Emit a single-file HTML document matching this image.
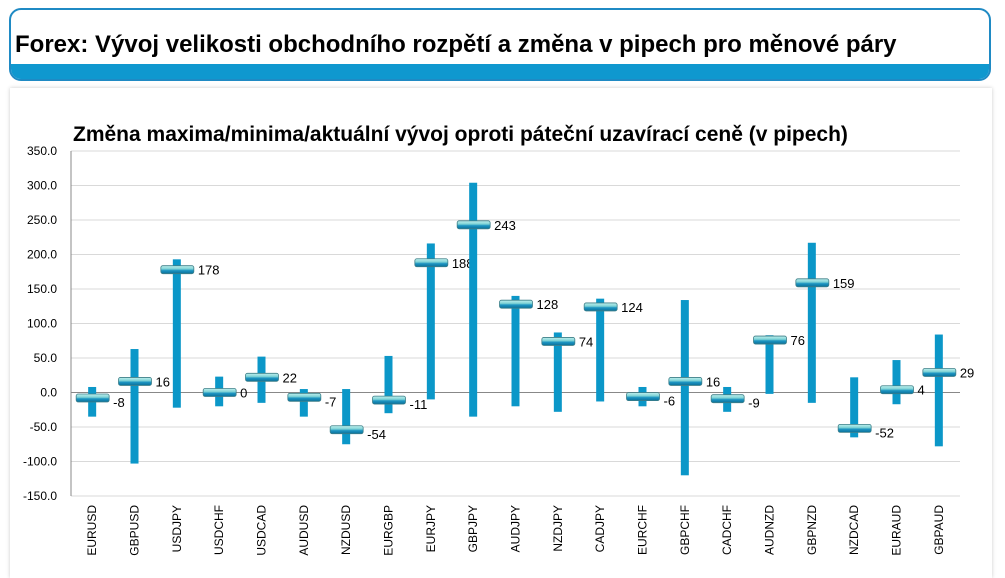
<!DOCTYPE html>
<html><head><meta charset="utf-8"><style>
body{margin:0;width:1005px;height:572px;background:#fff;overflow:hidden;font-family:"Liberation Sans",sans-serif;}
#hdr{position:absolute;left:9px;top:8px;width:982px;height:73px;border:2px solid #1f8ac4;border-radius:12px;overflow:hidden;box-sizing:border-box;}
#hdr .t{position:absolute;left:4px;top:21px;font-weight:bold;font-size:24px;color:#000;white-space:nowrap;}
#hdr .band{position:absolute;left:0;right:0;bottom:0;height:15px;background:#0f98cf;}
#panel{position:absolute;left:10px;top:88px;width:982px;height:490px;box-shadow:0 0 4px #ccc;}
svg{position:absolute;left:0;top:0;}
</style></head><body>
<div id="hdr"><div class="t">Forex: Vývoj velikosti obchodního rozpětí a změna v pipech pro měnové páry</div><div class="band"></div></div>
<div id="panel"></div>
<svg id="c" width="1005" height="572"></svg>
<script>
const categories=["EURUSD","GBPUSD","USDJPY","USDCHF","USDCAD","AUDUSD","NZDUSD","EURGBP","EURJPY","GBPJPY","AUDJPY","NZDJPY","CADJPY","EURCHF","GBPCHF","CADCHF","AUDNZD","GBPNZD","NZDCAD","EURAUD","GBPAUD"];
const maxVals=[8,63,193,23,52,5,5,53,216,304,140,87,136,8,134,8,83,217,22,47,84];
const minVals=[-35,-103,-22,-20,-15,-35,-75,-30,-10,-35,-20,-28,-13,-20,-120,-28,-2,-15,-65,-17,-78];
const current=[-8,16,178,0,22,-7,-54,-11,188,243,128,74,124,-6,16,-9,76,159,-52,4,29];
const yTicks=[350,300,250,200,150,100,50,0,-50,-100,-150];
const NS="http://www.w3.org/2000/svg";
const svg=document.getElementById('c');
const X0=71,X1=960,Y0=151,Y1=496,YMAX=350,YMIN=-150;
const y=v=>Y0+(YMAX-v)/(YMAX-YMIN)*(Y1-Y0);
const step=(X1-X0)/categories.length;
const x=i=>X0+step*(i+0.5);
function mk(t,a,txt){const e=document.createElementNS(NS,t);for(const k in a)e.setAttribute(k,a[k]);if(txt!==undefined)e.textContent=txt;svg.appendChild(e);return e;}
const defs=document.createElementNS(NS,'defs');defs.innerHTML='<linearGradient id="g" x1="0" y1="0" x2="0" y2="1"><stop offset="0" stop-color="#bff0ee"/><stop offset="0.4" stop-color="#7fd3d6"/><stop offset="0.6" stop-color="#1d95c2"/><stop offset="1" stop-color="#0b6f99"/></linearGradient>';svg.appendChild(defs);
let t=mk('text',{x:73,y:141,'font-size':21,'font-weight':'bold',fill:'#000'},'Změna maxima/minima/aktuální vývoj oproti páteční uzavírací ceně (v pipech)');

yTicks.forEach(v=>{
 const g=mk('line',{x1:X0,x2:X1,y1:y(v),y2:y(v),stroke:v===0?'#888':'#d9d9d9','stroke-width':1});
 
 const l=mk('text',{x:57,y:y(v)+4,'font-size':12,'text-anchor':'end',fill:'#000'},v.toFixed(1));
 
});
let ax=mk('line',{x1:X0,x2:X0,y1:Y0,y2:Y1,stroke:'#888'});
categories.forEach((c,i)=>{
 const cx=x(i);
 const b=mk('rect',{x:cx-4,y:y(maxVals[i]),width:8,height:y(minVals[i])-y(maxVals[i]),fill:'#0b97c8'});
 
 const m=mk('rect',{x:cx-16,y:y(current[i])-4,width:33,height:8,rx:2,fill:'url(#g)',stroke:'#3f7f88','stroke-width':0.8});
 
 const vl=mk('text',{x:cx+21,y:y(current[i])+(current[i]<0?9:5),'font-size':13,fill:'#000'},String(current[i]));
 
 const cl=mk('text',{x:0,y:0,'font-size':12,'text-anchor':'end',fill:'#000',transform:`translate(${cx+4},505) rotate(-90)`},c);
 
});
</script>
</body></html>
